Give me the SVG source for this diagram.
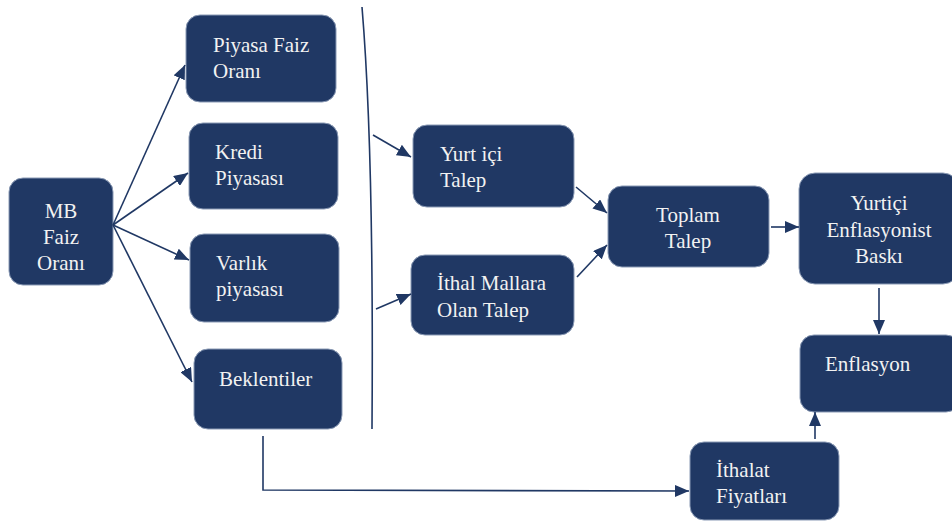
<svg xmlns="http://www.w3.org/2000/svg" width="952" height="522" viewBox="0 0 952 522">
<defs>
<marker id="ah" markerWidth="14" markerHeight="12" refX="14" refY="6" orient="auto" markerUnits="userSpaceOnUse">
<path d="M0,0 L14,6 L0,12 Z" fill="#203864"/>
</marker>
<style>
.box{fill:#203864;stroke:#8a9ab5;stroke-width:1}
text{font-size:21px;fill:#f2f2f2}
.c{text-anchor:middle}
.ln{stroke:#203864;stroke-width:1.6;fill:none}
</style>
</defs>
<rect width="952" height="522" fill="#ffffff"/>
<g font-family="Liberation Serif, DejaVu Serif, serif">
<g id="mb"><rect class="box" x="9" y="178" width="104" height="107" rx="14"/>
<text class="c" x="61" y="218">MB</text><text class="c" x="61" y="244">Faiz</text><text class="c" x="61" y="270">Oranı</text></g>
<g id="piyasa"><rect class="box" x="186" y="15" width="150" height="87" rx="14"/>
<text x="213" y="52">Piyasa Faiz</text><text x="213" y="78">Oranı</text></g>
<g id="kredi"><rect class="box" x="189" y="123" width="149" height="86" rx="14"/>
<text x="215" y="159">Kredi</text><text x="215" y="185">Piyasası</text></g>
<g id="varlik"><rect class="box" x="190" y="234" width="149" height="88" rx="14"/>
<text x="216" y="270">Varlık</text><text x="216" y="296">piyasası</text></g>
<g id="beklentiler"><rect class="box" x="194" y="349" width="148" height="80" rx="14"/>
<text x="219" y="386">Beklentiler</text></g>
<g id="yurtici"><rect class="box" x="413" y="125" width="161" height="82" rx="14"/>
<text x="440" y="161">Yurt içi</text><text x="440" y="187">Talep</text></g>
<g id="ithal"><rect class="box" x="411" y="255" width="163" height="80" rx="14"/>
<text x="437" y="290">İthal Mallara</text><text x="437" y="317">Olan Talep</text></g>
<g id="toplam"><rect class="box" x="608" y="186" width="161" height="81" rx="14"/>
<text class="c" x="688" y="222">Toplam</text><text class="c" x="688" y="248">Talep</text></g>
<g id="baski"><rect class="box" x="799" y="173" width="160" height="111" rx="16"/>
<text class="c" x="879" y="210">Yurtiçi</text><text class="c" x="879" y="237">Enflasyonist</text><text class="c" x="879" y="263">Baskı</text></g>
<g id="enflasyon"><rect class="box" x="800" y="335" width="160" height="77" rx="14"/>
<text x="825" y="371">Enflasyon</text></g>
<g id="ithalat"><rect class="box" x="690" y="442" width="149" height="78" rx="14"/>
<text x="716" y="477">İthalat</text><text x="716" y="503">Fiyatları</text></g>
</g>
<g id="connectors">
<line class="ln" x1="113" y1="225" x2="185" y2="65" marker-end="url(#ah)"/>
<line class="ln" x1="113" y1="225" x2="188" y2="173" marker-end="url(#ah)"/>
<line class="ln" x1="113" y1="225" x2="189" y2="260" marker-end="url(#ah)"/>
<line class="ln" x1="113" y1="225" x2="192" y2="382" marker-end="url(#ah)"/>
<path class="ln" d="M362 7 Q374 150 372 429" stroke-width="2.2"/>
<line class="ln" x1="373" y1="135" x2="411" y2="157" marker-end="url(#ah)"/>
<line class="ln" x1="376" y1="309" x2="411" y2="294" marker-end="url(#ah)"/>
<line class="ln" x1="576" y1="187" x2="607" y2="213" marker-end="url(#ah)"/>
<line class="ln" x1="577" y1="277" x2="607" y2="245" marker-end="url(#ah)"/>
<line class="ln" x1="771" y1="227" x2="799" y2="227" marker-end="url(#ah)"/>
<line class="ln" x1="879" y1="288" x2="879" y2="334" marker-end="url(#ah)"/>
<line class="ln" x1="815" y1="439" x2="815" y2="412" marker-end="url(#ah)"/>
<path class="ln" d="M263 436 L263 490 L689 491" stroke-width="2.4" marker-end="url(#ah)"/>
</g>
</svg>
